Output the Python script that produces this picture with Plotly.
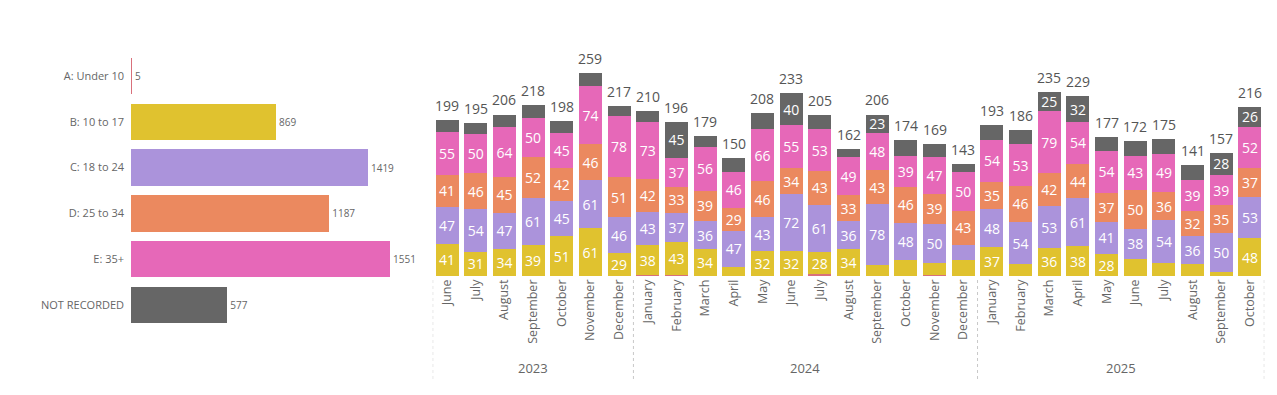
import plotly.graph_objects as go

# ---------------- data ----------------
age_groups = ["A: Under 10", "B: 10 to 17", "C: 18 to 24", "D: 25 to 34", "E: 35+", "NOT RECORDED"]
age_totals = [5, 869, 1419, 1187, 1551, 577]

months = ["June", "July", "August", "September", "October", "November", "December",
          "January", "February", "March", "April", "May", "June", "July", "August",
          "September", "October", "November", "December",
          "January", "February", "March", "April", "May", "June", "July", "August",
          "September", "October"]
years = ["2023"] * 7 + ["2024"] * 12 + ["2025"] * 10

a_under10 = [0, 0, 0, 0, 0, 0, 0,
             1, 1, 0, 0, 0, 0, 2, 0, 0, 0, 1, 0,
             0, 0, 0, 0, 0, 0, 0, 0, 0, 0]
b_10_17 = [41, 31, 34, 39, 51, 61, 29,
           38, 43, 34, 11, 32, 32, 28, 34, 14, 20, 15, 21,
           37, 15, 36, 38, 28, 22, 17, 15, 5, 48]
c_18_24 = [47, 54, 47, 61, 45, 61, 46,
           43, 37, 36, 47, 43, 72, 61, 36, 78, 48, 50, 19,
           48, 54, 53, 61, 41, 38, 54, 36, 50, 53]
d_25_34 = [41, 46, 45, 52, 42, 46, 51,
           42, 33, 39, 29, 46, 34, 43, 33, 43, 46, 39, 43,
           35, 46, 42, 44, 37, 50, 36, 32, 35, 37]
e_35plus = [55, 50, 64, 50, 45, 74, 78,
            73, 37, 56, 46, 66, 55, 53, 49, 48, 39, 47, 50,
            54, 53, 79, 54, 54, 43, 49, 39, 39, 52]
not_recorded = [15, 14, 16, 16, 15, 17, 13,
                13, 45, 14, 17, 21, 40, 18, 10, 23, 21, 17, 10,
                19, 18, 25, 32, 17, 19, 19, 19, 28, 26]

series = [
    ("A: Under 10", a_under10, "#D9707B"),
    ("B: 10 to 17", b_10_17, "#E0C22F"),
    ("C: 18 to 24", c_18_24, "#AB93DB"),
    ("D: 25 to 34", d_25_34, "#EB895F"),
    ("E: 35+", e_35plus, "#E668B8"),
    ("NOT RECORDED", not_recorded, "#666666"),
]
age_colors = [c for _, _, c in series]

FONT = "Segoe UI, Open Sans, sans-serif"
PAGE_MARGIN = 8
W, H = 1277 - 2 * PAGE_MARGIN, 395 - 2 * PAGE_MARGIN


def px_x(p):
    return (p - PAGE_MARGIN) / W


def px_y(p):
    return 1 - (p - PAGE_MARGIN) / H


fig = go.Figure()

# ---------------- left: totals by age group ----------------
fig.add_trace(go.Bar(
    x=age_totals, y=age_groups, orientation="h", width=0.79,
    marker=dict(color=age_colors, line=dict(width=0)),
    text=[str(v) for v in age_totals], textposition="outside",
    textangle=0, constraintext="none",
    textfont=dict(size=10, color="#666666", family=FONT),
    cliponaxis=False, xaxis="x", yaxis="y", showlegend=False,
    hoverinfo="x+y",
))

# ---------------- right: monthly stacked columns ----------------
idx = list(range(len(months)))
for name, vals, col in series:
    fig.add_trace(go.Bar(
        x=idx, y=vals, name=name,
        marker=dict(color=col, line=dict(width=0)),
        text=[str(v) if v >= 23 else "" for v in vals],
        textposition="inside", insidetextanchor="middle",
        textangle=0, constraintext="none",
        textfont=dict(size=14, color="white", family=FONT),
        xaxis="x2", yaxis="y2", showlegend=False,
    ))

totals = [sum(s[1][i] for s in series) for i in idx]
for i, t in zip(idx, totals):
    fig.add_annotation(x=i, y=t, xref="x2", yref="y2", text=str(t),
                       showarrow=False, yanchor="bottom", yshift=3,
                       font=dict(size=14, color="#555555", family=FONT))

# year group labels and separators
year_names = []
for y in years:
    if y not in year_names:
        year_names.append(y)
bounds = [-0.5]
for yn in year_names:
    ids = [i for i, y in enumerate(years) if y == yn]
    center = (ids[0] + ids[-1]) / 2
    fig.add_annotation(x=center, y=px_y(368), xref="x2", yref="paper",
                       yanchor="middle", text=yn, showarrow=False,
                       font=dict(size=13, color="#666666", family=FONT))
    bounds.append(ids[-1] + 0.5)
for b in bounds:
    fig.add_shape(type="line", x0=b, x1=b, xref="x2", yref="paper",
                  y0=px_y(280), y1=px_y(382),
                  line=dict(color="#C8C8C8", width=1, dash="dot"))

left_max = 1551 * (400 - 131) / (390 - 131)
y2_top = (276 - 40) / 0.784

fig.update_layout(
    width=W, height=H,
    margin=dict(l=0, r=0, t=0, b=0, autoexpand=False),
    paper_bgcolor="white", plot_bgcolor="white",
    barmode="stack", bargap=0.2,
    font=dict(family=FONT, color="#666666"),
    xaxis=dict(domain=[px_x(131), px_x(400)], range=[0, left_max],
               visible=False, fixedrange=True),
    yaxis=dict(domain=[px_y(328), px_y(53)], autorange="reversed",
               type="category", showgrid=False, zeroline=False,
               showline=False, ticks="", ticklen=0, ticklabelstandoff=6,
               tickfont=dict(size=11, color="#666666", family=FONT),
               anchor="x"),
    xaxis2=dict(domain=[px_x(432.7), px_x(1264.3)], range=[-0.5, 28.5],
                tickmode="array", tickvals=idx, ticktext=months,
                tickangle=-90, showgrid=False, zeroline=False, showline=False,
                ticks="", tickfont=dict(size=12.5, color="#666666", family=FONT),
                anchor="y2"),
    yaxis2=dict(domain=[px_y(276), px_y(40)], range=[0, y2_top],
                visible=False, anchor="x2"),
)

fig.write_html("out.html")
